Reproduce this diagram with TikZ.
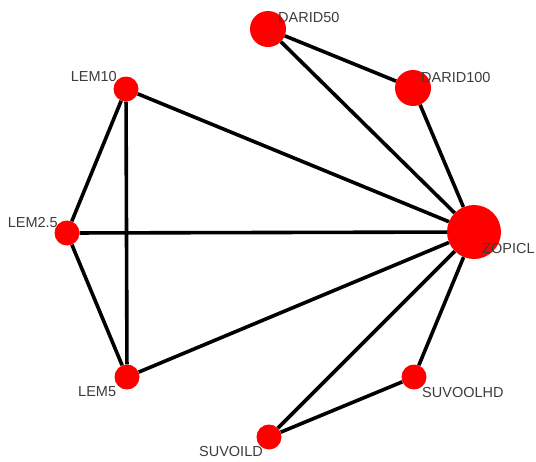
\documentclass[tikz,border=0pt]{standalone}
\usepackage{fontspec}
\setmainfont{Liberation Sans}
\definecolor{NodeRed}{HTML}{FF0000}
\definecolor{LabelGrey}{HTML}{3C3C3C}

\begin{document}
\begin{tikzpicture}[
  x=1pt,y=-1pt,
  drug/.style={circle,fill=NodeRed,draw=none,inner sep=0pt},
  small/.style={drug,minimum size=25pt},
  mid/.style={drug,minimum size=36pt},
  hub/.style={drug,minimum size=54pt},
  lbl/.style={inner sep=0pt,text=LabelGrey,font=\fontsize{14.5}{16}\selectfont},
  edge/.style={draw=black,line width=3.6pt}
]
\useasboundingbox (0,0) rectangle (536,461);
\node[mid] (darid50) at (268,29) {};
\node[mid] (darid100) at (413,88) {};
\node[small] (lem10) at (126,89) {};
\node[small] (lem25) at (67,233) {};
\node[hub] (zopicl) at (474,232) {};
\node[small] (lem5) at (127,377) {};
\node[small] (suvoolhd) at (414,377) {};
\node[small] (suvoild) at (269,437) {};

\node[lbl,anchor=west] (l-darid50) at (278,17.5) {DARID50};
\node[lbl,anchor=west] (l-darid100) at (421,78) {DARID100};
\node[lbl,anchor=east] (l-lem10) at (117,77) {LEM10};
\node[lbl,anchor=east] (l-lem25) at (58,223) {LEM2.5};
\node[lbl,anchor=west] (l-zopicl) at (482,249) {ZOPICL};
\node[lbl,anchor=west] (l-lem5) at (78,392) {LEM5};
\node[lbl,anchor=west] (l-suvoolhd) at (422,393) {SUVOOLHD};
\node[lbl,anchor=east] (l-suvoild) at (263,452) {SUVOILD};

\draw[edge] (darid50) -- (darid100);
\draw[edge] (darid50) -- (zopicl);
\draw[edge] (darid100) -- (zopicl);
\draw[edge] (lem10) -- (zopicl);
\draw[edge] (lem10) -- (lem25);
\draw[edge] (lem10) -- (lem5);
\draw[edge] (lem25) -- (zopicl);
\draw[edge] (lem25) -- (lem5);
\draw[edge] (lem5) -- (zopicl);
\draw[edge] (suvoolhd) -- (zopicl);
\draw[edge] (suvoild) -- (zopicl);
\draw[edge] (suvoild) -- (suvoolhd);
\end{tikzpicture}
\end{document}
